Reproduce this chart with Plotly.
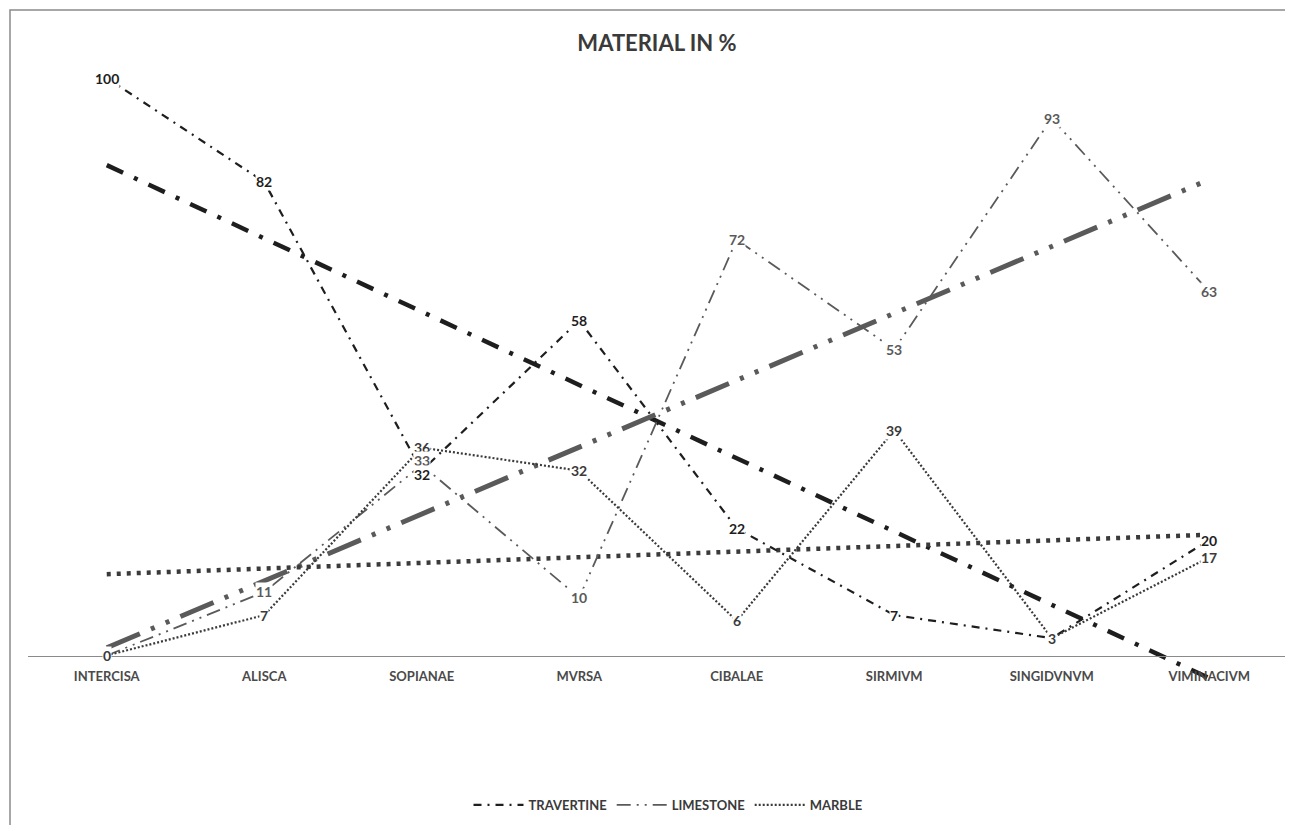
import numpy as np
import plotly.graph_objects as go

categories = ["INTERCISA", "ALISCA", "SOPIANAE", "MVRSA", "CIBALAE", "SIRMIVM", "SINGIDVNVM", "VIMINACIVM"]
travertine = [100, 82, 32, 58, 22, 7, 3, 20]
limestone = [0, 11, 33, 10, 72, 53, 93, 63]
marble = [0, 7, 36, 32, 6, 39, 3, 17]

series = [
    ("TRAVERTINE", travertine, "#1e1e1e", "8px,6px,2px,6px", 2.2, "18px,12px,4px,12px", 4.5),
    ("LIMESTONE", limestone, "#5a5a5a", "14px,6px,2px,6px,2px,6px", 1.8, "36px,12px,4px,12px,4px,12px", 5),
    ("MARBLE", marble, "#3a3a3a", "2px,2px", 2.2, "4px,6px", 4.5),
]
# small label nudges (pixels) where labels crowd together
label_shift = {("LIMESTONE", "SOPIANAE"): 4, ("TRAVERTINE", "SOPIANAE"): -4}

FONT = "Lato"
OFF = 8  # page body margin compensation
fig = go.Figure()
xi = np.arange(len(categories)) + 1

for name, vals, col, dash, w, tdash, tw in series:
    fit = np.polyfit(xi, np.array(vals, dtype=float), 1)
    trend = np.polyval(fit, xi)
    fig.add_trace(go.Scatter(x=categories, y=trend, mode="lines", showlegend=False,
                             line=dict(color=col, width=tw, dash=tdash), hoverinfo="skip"))

for name, vals, col, dash, w, tdash, tw in series:
    fig.add_trace(go.Scatter(x=categories, y=vals, mode="lines", name=name,
                             line=dict(color=col, width=w, dash=dash)))

annotations = []
seen = set()
for name, vals, col, dash, w, tdash, tw in reversed(series):
    for c, v in zip(categories, vals):
        key = (c, v)
        if key in seen:
            continue
        seen.add(key)
        annotations.append(dict(x=c, y=v, xref="x", yref="y", text=f"<b>{v}</b>", showarrow=False,
                                font=dict(family=FONT, size=14, color=col), bgcolor="white",
                                borderpad=0, xanchor="center", yanchor="middle",
                                yshift=label_shift.get((name, c), 0)))

W, H = 1293, 825
plot_top, plot_bot = 78 - OFF, 771 - OFF
plot_left, plot_right = 28 - OFF, 1288 - OFF
ph = plot_bot - plot_top
pw = plot_right - plot_left

fig.update_layout(
    width=W, height=H,
    paper_bgcolor="white", plot_bgcolor="white",
    margin=dict(l=plot_left, r=W - plot_right, t=plot_top, b=H - plot_bot),
    title=dict(text="MATERIAL IN %", x=(657 - OFF) / W, xanchor="center", xref="container",
               y=(H - (43 - OFF)) / H, yref="container", yanchor="middle",
               font=dict(family=FONT, size=22, color="#3a3a3a", weight="bold")),
    xaxis=dict(type="category", range=[-0.5, 7.5], anchor="free", position=20 / 120,
               showline=True, linecolor="#8a8a8a", linewidth=1.2, showgrid=False, zeroline=False,
               ticks="", tickfont=dict(family=FONT, size=13, color="#4a4a4a", weight="bold"),
               ticklabelstandoff=9),
    yaxis=dict(range=[-20, 100], visible=False, showgrid=False, zeroline=False),
    legend=dict(orientation="h", x=(668 - OFF - plot_left) / pw, xanchor="center",
                y=(plot_bot - (805 - OFF)) / ph, yanchor="middle",
                font=dict(family=FONT, size=13, color="#3a3a3a", weight="bold"),
                itemwidth=50, traceorder="normal"),
    annotations=annotations,
    shapes=[dict(type="rect", xref="paper", yref="paper",
                 x0=(10 - 28) / pw, x1=1.2, y0=-0.3, y1=(plot_bot - (10 - OFF)) / ph,
                 line=dict(color="#8a8a8a", width=1.5), fillcolor="rgba(0,0,0,0)", layer="below")],
    showlegend=True,
)

fig.write_html("out.html")
